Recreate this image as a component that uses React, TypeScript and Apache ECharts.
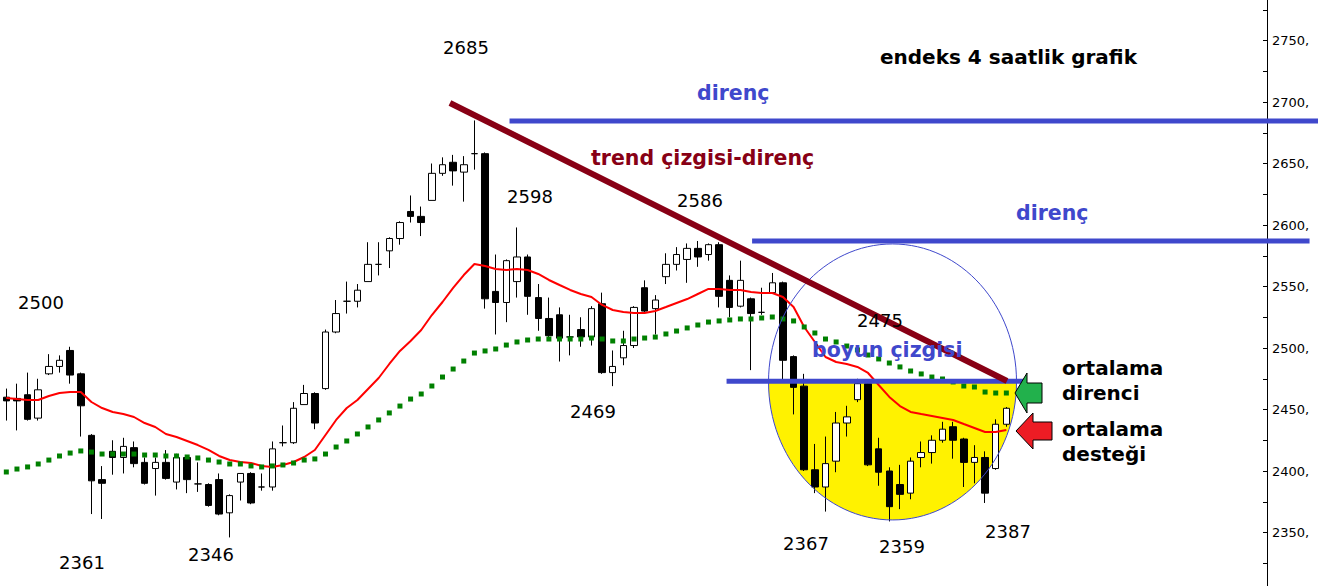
import React, { useEffect, useRef } from "react";
import * as echarts from "echarts";

// [open, close, low, high] — 4-hour index candles
const candles: number[][] = [
  [2460, 2457, 2441, 2467], [2459, 2457, 2433, 2471], [2462, 2442, 2441, 2480], [2443, 2466, 2441, 2475],
  [2479, 2485, 2478, 2495], [2485, 2490, 2480, 2494], [2498, 2478, 2471, 2501], [2479, 2453, 2428, 2480],
  [2429, 2392, 2365, 2430], [2393, 2390, 2361, 2404], [2416, 2411, 2397, 2425], [2411, 2420, 2398, 2427],
  [2419, 2406, 2403, 2424], [2407, 2390, 2389, 2411], [2402, 2407, 2380, 2411], [2407, 2394, 2393, 2417],
  [2391, 2411, 2385, 2414], [2411, 2393, 2382, 2413], [2389.5, 2389.5, 2383, 2407], [2389, 2372, 2371, 2390],
  [2393, 2365, 2364, 2398], [2366, 2380, 2346, 2381], [2391, 2398, 2376, 2398], [2398, 2374, 2373, 2399],
  [2387, 2387, 2384, 2398], [2387, 2418, 2384, 2424], [2423, 2423, 2420, 2437], [2423, 2451, 2422, 2456],
  [2454, 2463, 2454, 2470], [2463, 2439, 2434, 2464], [2467, 2513, 2466, 2515], [2513, 2528, 2512, 2539],
  [2538, 2538, 2528, 2554], [2538, 2547, 2533, 2552], [2554, 2568, 2554, 2586], [2568, 2568, 2559, 2586],
  [2579, 2589, 2565, 2590], [2589, 2602, 2584, 2603], [2611, 2607, 2602, 2624], [2607, 2602, 2591, 2615],
  [2620, 2642, 2620, 2650], [2642, 2649, 2640, 2655], [2651, 2644, 2632, 2657], [2643, 2649, 2619, 2656],
  [2658, 2658, 2645, 2685], [2658, 2540, 2532, 2659], [2546, 2537, 2511, 2576], [2537, 2571, 2521, 2572],
  [2554, 2574, 2541, 2598], [2574, 2542, 2527, 2576], [2541, 2524, 2514, 2552], [2524, 2510, 2509, 2541],
  [2527, 2508, 2489, 2533], [2509, 2509, 2494, 2527], [2515, 2509, 2501, 2525], [2509, 2532, 2502, 2534],
  [2536, 2480, 2479, 2545], [2480, 2485, 2469, 2498], [2492, 2502, 2486, 2514], [2502, 2533, 2500, 2534],
  [2549, 2530, 2529, 2555], [2532, 2539, 2511, 2543], [2558, 2568, 2552, 2577], [2568, 2576, 2563, 2582],
  [2572, 2581, 2553, 2585], [2581, 2574, 2566, 2587], [2576, 2584, 2571, 2585], [2584, 2542, 2533, 2586],
  [2555, 2533, 2525, 2559], [2534, 2555, 2533, 2571], [2540, 2528, 2482, 2541], [2529, 2529, 2527, 2549],
  [2545, 2553, 2545, 2561], [2553, 2490, 2474, 2554], [2493, 2468, 2446, 2494], [2469, 2401, 2400, 2479],
  [2401, 2387, 2382, 2422], [2387, 2406, 2367, 2428], [2408, 2439, 2399, 2448], [2439, 2444, 2428, 2453],
  [2458, 2471, 2456, 2475], [2471, 2405, 2404, 2474], [2418, 2399, 2388, 2427], [2400, 2371, 2359, 2403],
  [2389, 2381, 2369, 2405], [2382, 2408, 2377, 2411], [2411, 2415, 2403, 2424], [2415, 2425, 2406, 2429],
  [2425, 2434, 2423, 2440], [2436, 2425, 2410, 2440], [2426, 2407, 2387, 2427], [2407, 2411, 2390, 2421],
  [2411, 2382, 2374, 2416], [2402, 2438, 2401, 2442], [2438, 2451, 2436, 2452],
];

// fast moving average (red)
const maFast: number[] = [
  2459.4, 2458.5, 2457.7, 2457.7, 2461.0, 2463.4, 2464.2, 2464.2,
  2456.1, 2451.2, 2448.0, 2446.3, 2443.9, 2439.0, 2435.8, 2430.1,
  2427.6, 2424.4, 2421.1, 2417.1, 2412.2, 2408.9, 2407.3, 2406.5,
  2404.1, 2403.3, 2404.9, 2407.3, 2411.4, 2417.1,
  2429.3, 2441.5, 2451.2, 2457.7, 2466.7, 2475.6, 2487.0, 2497.6,
  2505.7, 2514.6, 2526.8, 2537.4, 2548.8, 2559.3, 2568.3,
  2566.7, 2564.2, 2563.4, 2564.2, 2563.4, 2560.2, 2555.3,
  2551.2, 2547.2, 2543.9, 2541.5, 2535.0, 2530.9, 2529.3, 2528.5, 2528.5,
  2530.1, 2533.3, 2536.6, 2539.8, 2543.9, 2548.0, 2548.0,
  2547.2, 2547.2, 2545.5, 2544.7, 2544.7, 2541.5, 2533.3,
  2517.1, 2504.9, 2492.7, 2488.6, 2487.0, 2484.6, 2479.7, 2469.9, 2460.2,
  2452.8, 2448.0, 2446.3, 2444.7, 2443.1, 2441.5, 2438.2, 2435.0, 2431.7, 2431.7, 2433.3,
];

// slow moving average (green dots)
const maSlow: number[] = [
  2399.2, 2401.6, 2403.3, 2405.7, 2408.9, 2412.2, 2414.6, 2416.3,
  2415.4, 2413.8, 2413.8, 2413.8, 2413.8, 2413.0, 2413.0, 2412.2,
  2412.2, 2411.4, 2410.6, 2408.9, 2407.3, 2405.7, 2405.7, 2404.1,
  2403.3, 2404.1, 2404.9, 2406.5, 2408.9, 2409.8,
  2413.8, 2419.5, 2424.4, 2430.1, 2435.8, 2441.5, 2447.2, 2452.8,
  2458.5, 2462.6, 2469.1, 2476.4, 2482.9, 2489.4, 2495.9,
  2497.6, 2499.2, 2502.4, 2504.9, 2506.5, 2507.3, 2507.3,
  2507.3, 2507.3, 2507.3, 2508.1, 2507.3, 2505.7, 2505.7, 2507.3, 2508.1,
  2508.9, 2511.4, 2513.8, 2516.3, 2518.7, 2521.1, 2522.0,
  2522.8, 2523.6, 2523.6, 2524.4, 2525.2, 2523.6, 2522.0,
  2517.1, 2512.2, 2507.3, 2504.9, 2501.6, 2498.4, 2494.3, 2491.1, 2487.8,
  2484.6, 2481.3, 2478.9, 2476.4, 2474.8, 2472.4, 2469.1, 2468.3, 2464.2, 2463.4, 2463.4,
];

const emptySlots = 24;
const categories: string[] = Array.from({ length: candles.length + emptySlots }, (_, i) => String(i + 1));

const yMin = 2300;
const yMax = 2800;
const yStep = 50;

// annotation levels (price) and spans (bar index)
const resistanceLevels = [2684.5, 2587];
const resistanceSpans = [[47.3, 123.3], [70.1, 122.5]];
const necklineLevel = 2473;
const necklineSpan = [67.7, 95.8];
const trendFrom = [41.7, 2699.2];
const trendTo = [94.06, 2473.2];
const circleCenter = [83.3, 2472.4];

const priceNotes = ["2685", "2598", "2586", "2500", "2469", "2361", "2346", "2367", "2359", "2387", "2475"];
const notePos = [
  [466, 47], [530, 196], [700, 200], [41, 302], [593, 411], [82, 562],
  [211, 554], [806, 543], [902, 546], [1008, 531], [880, 320],
];

const BLUE = "#3F48CC";
const MAROON = "#880015";
const FONT = '"DejaVu Sans", Verdana, sans-serif';

export default function App() {
  const ref = useRef<HTMLDivElement>(null);

  useEffect(() => {
    document.body.style.margin = "0";
    const chart = echarts.init(ref.current!, null, { renderer: "svg" });
    chart.setOption({
      animation: false,
      backgroundColor: "#ffffff",
      grid: { left: 1, right: 51, top: -21, bottom: -8, containLabel: false, outerBoundsMode: "none" },
      xAxis: { type: "category", data: categories, show: false, boundaryGap: true },
      yAxis: {
        type: "value",
        position: "right",
        min: yMin,
        max: yMax,
        interval: yStep,
        axisLine: { show: true, lineStyle: { color: "#000", width: 1 } },
        axisTick: { show: true, inside: true, length: 4, lineStyle: { color: "#000" } },
        minorTick: { show: true, splitNumber: 2, length: 4, lineStyle: { color: "#000" } },
        splitLine: { show: false },
        axisLabel: {
          color: "#000",
          fontFamily: FONT,
          fontSize: 13,
          margin: 5,
          padding: [9, 0, 0, 0],
          showMinLabel: false,
          showMaxLabel: false,
          formatter: (v: number) => `${v},`,
        },
      },
      series: [
        {
          type: "candlestick",
          data: candles,
          barWidth: 7,
          z: 2,
          itemStyle: {
            color: "#ffffff",
            color0: "#000000",
            borderColor: "#000000",
            borderColor0: "#000000",
            borderColorDoji: "#000000",
            borderWidth: 1,
          },
        },
        {
          type: "line",
          data: maFast,
          showSymbol: false,
          z: 3,
          lineStyle: { color: "#ff0000", width: 2 },
        },
        {
          type: "line",
          data: maSlow,
          showAllSymbol: true,
          symbol: "rect",
          symbolSize: 5,
          z: 4,
          lineStyle: { width: 0, opacity: 0 },
          itemStyle: { color: "#008000" },
        },
      ],
    });

    const px = (idx: number, price: number) => {
      const a = chart.convertToPixel({ gridIndex: 0 }, [0, price]) as number[];
      const b = chart.convertToPixel({ gridIndex: 0 }, [1, price]) as number[];
      return [a[0] + idx * (b[0] - a[0]), a[1]];
    };

    const els: any[] = [];

    // yellow lower half of the ellipse
    const c = px(circleCenter[0], circleCenter[1]);
    const rx = 124;
    const ry = 138;
    const pts: number[][] = [];
    for (let i = 0; i <= 72; i++) {
      const t = (Math.PI * i) / 72;
      pts.push([c[0] + rx * Math.cos(t), c[1] + ry * Math.sin(t)]);
    }
    els.push({ type: "polygon", z: 1, silent: true, shape: { points: pts }, style: { fill: "#FFF200" } });
    els.push({
      type: "ellipse", z: 10, silent: true,
      shape: { cx: c[0], cy: c[1], rx, ry },
      style: { fill: "none", stroke: BLUE, lineWidth: 1 },
    });

    // resistance lines
    resistanceLevels.forEach((lv, i) => {
      const p1 = px(resistanceSpans[i][0], lv);
      const p2 = px(resistanceSpans[i][1], lv);
      els.push({
        type: "line", z: 10, silent: true,
        shape: { x1: p1[0], y1: p1[1], x2: p2[0], y2: p2[1] },
        style: { stroke: BLUE, lineWidth: 5 },
      });
    });
    // neckline
    {
      const p1 = px(necklineSpan[0], necklineLevel);
      const p2 = px(necklineSpan[1], necklineLevel);
      els.push({
        type: "line", z: 10, silent: true,
        shape: { x1: p1[0], y1: p1[1], x2: p2[0], y2: p2[1] },
        style: { stroke: BLUE, lineWidth: 5 },
      });
    }
    // trend line
    {
      const p1 = px(trendFrom[0], trendFrom[1]);
      const p2 = px(trendTo[0], trendTo[1]);
      els.push({
        type: "line", z: 11, silent: true,
        shape: { x1: p1[0], y1: p1[1], x2: p2[0], y2: p2[1] },
        style: { stroke: MAROON, lineWidth: 6 },
      });
    }

    // arrows
    els.push({
      type: "polygon", z: 12, silent: true,
      shape: { points: [[1015, 393], [1027, 373], [1027, 383], [1042, 383], [1042, 403], [1027, 403], [1027, 413]] },
      style: { fill: "#22B14C", stroke: "#000", lineWidth: 1 },
    });
    els.push({
      type: "polygon", z: 12, silent: true,
      shape: { points: [[1016, 431], [1033, 413], [1033, 422], [1052, 422], [1052, 440], [1033, 440], [1033, 449]] },
      style: { fill: "#ED1C24", stroke: "#000", lineWidth: 1 },
    });

    const txt = (text: string, x: number, y: number, fill: string, bold: boolean, size: number, align = "left") => ({
      type: "text", z: 13, silent: true, x, y,
      style: {
        text, fill,
        font: `${bold ? "bold " : ""}${size}px ${FONT}`,
        align, textAlign: align, verticalAlign: "middle", textVerticalAlign: "middle",
      },
    });

    priceNotes.forEach((t, i) => els.push(txt(t, notePos[i][0], notePos[i][1], "#000", false, 18, "center")));
    els.push(txt("endeks 4 saatlik grafik", 880, 57, "#000", true, 20));
    els.push(txt("direnç", 697, 93, BLUE, true, 20.5));
    els.push(txt("direnç", 1016, 213, BLUE, true, 20.5));
    els.push(txt("trend çizgisi-direnç", 591, 158, MAROON, true, 20.5));
    els.push(txt("boyun çizgisi", 812, 350, BLUE, true, 20.5));
    els.push(txt("ortalama", 1062, 368, "#000", true, 20));
    els.push(txt("direnci", 1062, 393, "#000", true, 20));
    els.push(txt("ortalama", 1062, 429, "#000", true, 20));
    els.push(txt("desteği", 1062, 454, "#000", true, 20));

    chart.setOption({ graphic: { elements: els } });

    return () => chart.dispose();
  }, []);

  return (
    <div
      ref={ref}
      style={{ position: "absolute", left: 0, top: 0, width: 1318, height: 586, background: "#fff" }}
    />
  );
}
